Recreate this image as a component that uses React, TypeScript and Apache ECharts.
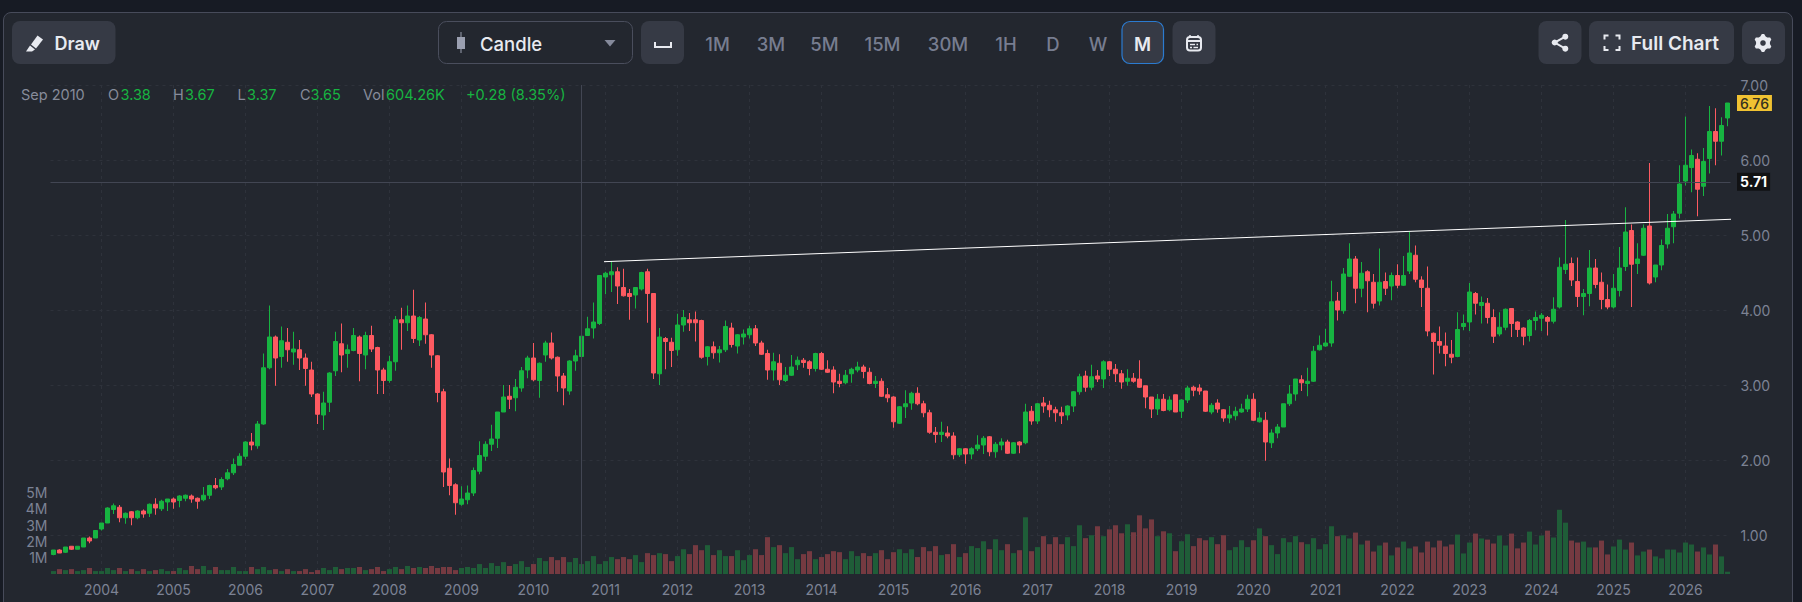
import React, { useEffect, useRef } from "react";
import * as echarts from "echarts";

// Monthly candles, one row per month: [open, close, low, high]
const candles2003 = [[0.74,0.80,0.73,0.80],[0.80,0.76,0.76,0.81],[0.77,0.84,0.76,0.84],[0.85,0.81,0.80,0.85],[0.81,0.85,0.81,0.85],[0.84,0.96,0.84,0.96],[0.96,0.92,0.89,0.98],[0.96,1.06,0.96,1.06]];
const candles2004 = [[1.08,1.16,1.06,1.16],[1.16,1.36,1.16,1.37],[1.34,1.39,1.28,1.42],[1.37,1.23,1.17,1.40],[1.23,1.29,1.15,1.30],[1.31,1.23,1.13,1.32],[1.23,1.32,1.21,1.33],[1.32,1.28,1.23,1.34],[1.29,1.41,1.24,1.42],[1.41,1.36,1.27,1.49],[1.35,1.45,1.32,1.47],[1.44,1.48,1.32,1.48]];
const candles2005 = [[1.48,1.44,1.35,1.50],[1.46,1.52,1.37,1.53],[1.49,1.53,1.45,1.54],[1.52,1.48,1.43,1.54],[1.49,1.45,1.35,1.50],[1.47,1.53,1.45,1.64],[1.53,1.66,1.48,1.67],[1.66,1.63,1.61,1.76],[1.64,1.74,1.60,1.77],[1.75,1.83,1.73,1.88],[1.83,1.94,1.80,2.02],[1.93,2.05,1.93,2.09]];
const candles2006 = [[2.05,2.24,2.01,2.25],[2.24,2.20,2.13,2.36],[2.19,2.48,2.15,2.52],[2.48,3.23,2.47,3.42],[3.23,3.64,3.21,4.06],[3.64,3.36,2.99,3.66],[3.38,3.59,3.23,3.78],[3.57,3.47,3.31,3.76],[3.44,3.48,3.27,3.71],[3.47,3.36,3.20,3.60],[3.36,3.22,2.99,3.42],[3.20,2.88,2.84,3.31]];
const candles2007 = [[2.88,2.61,2.48,2.89],[2.60,2.76,2.40,2.91],[2.77,3.16,2.64,3.17],[3.19,3.58,3.12,3.71],[3.55,3.40,3.17,3.82],[3.42,3.47,3.23,3.54],[3.46,3.66,3.45,3.76],[3.64,3.42,3.05,3.66],[3.40,3.66,3.21,3.71],[3.66,3.48,3.44,3.79],[3.50,3.20,2.88,3.51],[3.20,3.06,2.88,3.23]];
const candles2008 = [[3.06,3.31,3.03,3.39],[3.31,3.87,3.19,3.92],[3.87,3.83,3.47,4.03],[3.83,3.92,3.72,4.06],[3.92,3.62,3.56,4.27],[3.60,3.90,3.52,3.92],[3.88,3.67,3.55,4.10],[3.67,3.40,3.23,3.68],[3.39,2.90,2.77,3.40],[2.91,1.84,1.64,2.95],[1.89,1.66,1.53,2.02],[1.67,1.43,1.27,1.69]];
const candles2009 = [[1.41,1.48,1.39,1.65],[1.47,1.56,1.41,1.66],[1.56,1.86,1.52,1.90],[1.85,2.06,1.81,2.25],[2.05,2.21,1.99,2.25],[2.21,2.28,2.12,2.47],[2.29,2.64,2.16,2.64],[2.64,2.84,2.64,3.00],[2.85,2.81,2.68,3.00],[2.83,2.97,2.65,3.08],[2.96,3.19,2.91,3.24],[3.20,3.36,3.09,3.39]];
const candles2010 = [[3.36,3.07,3.05,3.56],[3.06,3.29,2.83,3.30],[3.40,3.56,3.31,3.59],[3.56,3.36,3.34,3.70],[3.37,3.12,2.91,3.38],[3.12,2.96,2.73,3.16],[2.92,3.32,2.87,3.33],[3.32,3.39,3.19,3.47],[3.38,3.65,3.37,3.67],[3.66,3.75,3.66,3.91],[3.76,3.84,3.62,4.10],[3.82,4.46,3.80,4.46]];
const candles2011 = [[4.44,4.49,4.21,4.51],[4.47,4.51,4.24,4.65],[4.51,4.32,4.08,4.57],[4.30,4.19,4.18,4.55],[4.22,4.18,3.87,4.28],[4.20,4.30,4.02,4.30],[4.28,4.50,4.26,4.51],[4.51,4.22,3.83,4.55],[4.22,3.16,3.08,4.22],[3.15,3.64,3.00,3.76],[3.62,3.58,3.21,3.64],[3.57,3.46,3.24,3.63]];
const candles2012 = [[3.47,3.80,3.39,3.95],[3.80,3.90,3.71,4.00],[3.87,3.83,3.72,3.96],[3.87,3.83,3.58,3.98],[3.86,3.37,3.35,3.87],[3.38,3.51,3.26,3.52],[3.51,3.43,3.35,3.58],[3.43,3.47,3.30,3.52],[3.47,3.78,3.44,3.86],[3.76,3.54,3.50,3.83],[3.52,3.67,3.42,3.68],[3.64,3.68,3.54,3.74]];
const candles2013 = [[3.67,3.75,3.62,3.79],[3.75,3.56,3.52,3.80],[3.56,3.41,3.40,3.59],[3.42,3.20,3.07,3.47],[3.20,3.31,3.06,3.43],[3.29,3.07,3.00,3.41],[3.06,3.13,3.04,3.24],[3.13,3.24,3.12,3.40],[3.27,3.33,3.20,3.38],[3.33,3.30,3.23,3.36],[3.31,3.22,3.13,3.33],[3.22,3.42,3.18,3.43]];
const candles2014 = [[3.42,3.21,3.20,3.44],[3.21,3.17,3.16,3.33],[3.20,3.04,2.89,3.25],[3.05,3.02,2.97,3.15],[3.03,3.13,3.01,3.20],[3.15,3.21,3.03,3.23],[3.20,3.24,3.17,3.31],[3.24,3.18,3.09,3.27],[3.17,3.02,3.01,3.23],[3.02,3.05,2.96,3.12],[3.05,2.85,2.84,3.09],[2.87,2.83,2.77,2.96]];
const candles2015 = [[2.84,2.51,2.43,2.85],[2.49,2.71,2.48,2.72],[2.71,2.75,2.56,2.93],[2.76,2.89,2.67,2.91],[2.89,2.75,2.73,2.97],[2.75,2.63,2.57,2.79],[2.63,2.37,2.35,2.67],[2.37,2.34,2.23,2.44],[2.34,2.37,2.24,2.51],[2.36,2.32,2.29,2.45],[2.32,2.07,2.01,2.37],[2.07,2.15,2.04,2.16]];
const candles2016 = [[2.15,2.08,1.95,2.16],[2.08,2.15,2.01,2.17],[2.15,2.20,2.12,2.33],[2.20,2.29,2.08,2.32],[2.31,2.11,2.05,2.32],[2.11,2.21,2.03,2.24],[2.20,2.24,2.13,2.29],[2.24,2.09,2.08,2.27],[2.09,2.23,2.08,2.24],[2.24,2.20,2.09,2.25],[2.23,2.64,2.21,2.75],[2.65,2.52,2.47,2.72]];
const candles2017 = [[2.52,2.75,2.48,2.76],[2.76,2.72,2.63,2.84],[2.73,2.67,2.57,2.79],[2.67,2.63,2.51,2.71],[2.63,2.59,2.48,2.71],[2.60,2.72,2.53,2.73],[2.72,2.91,2.64,2.92],[2.91,3.11,2.87,3.15],[3.12,2.97,2.91,3.19],[2.97,3.11,2.93,3.27],[3.12,3.08,3.04,3.20],[3.08,3.31,2.96,3.33]];
const candles2018 = [[3.31,3.21,3.12,3.32],[3.21,3.15,3.04,3.28],[3.15,3.04,2.95,3.20],[3.05,3.09,2.99,3.21],[3.09,3.05,3.03,3.16],[3.08,2.97,2.96,3.33],[2.99,2.84,2.69,2.99],[2.84,2.68,2.56,2.84],[2.68,2.81,2.60,2.88],[2.81,2.66,2.65,2.88],[2.67,2.80,2.65,2.85],[2.87,2.64,2.64,2.87]];
const candles2019 = [[2.65,2.80,2.56,2.81],[2.80,2.96,2.76,2.99],[2.97,2.93,2.85,2.99],[2.96,2.92,2.87,3.01],[2.92,2.65,2.64,2.92],[2.64,2.73,2.61,2.76],[2.76,2.68,2.63,2.81],[2.67,2.56,2.51,2.68],[2.56,2.60,2.49,2.72],[2.59,2.65,2.53,2.71],[2.64,2.68,2.63,2.75],[2.68,2.81,2.64,2.87]];
const candles2020 = [[2.81,2.53,2.52,2.89],[2.51,2.56,2.50,2.64],[2.53,2.24,1.99,2.64],[2.23,2.36,2.16,2.41],[2.36,2.44,2.29,2.48],[2.44,2.75,2.44,2.75],[2.75,2.88,2.72,3.00],[2.88,3.08,2.79,3.08],[3.07,3.03,2.92,3.13],[3.02,3.05,2.85,3.23],[3.05,3.45,3.04,3.52],[3.47,3.53,3.46,3.66]];
const candles2021 = [[3.52,3.56,3.51,3.75],[3.56,4.11,3.51,4.39],[4.12,4.00,3.86,4.24],[3.99,4.48,3.95,4.56],[4.45,4.68,4.44,4.89],[4.68,4.29,4.09,4.72],[4.29,4.49,4.17,4.64],[4.51,4.39,3.97,4.53],[4.37,4.09,4.02,4.48],[4.12,4.37,4.06,4.82],[4.38,4.29,4.20,4.50],[4.32,4.46,4.13,4.50]];
const candles2022 = [[4.46,4.33,4.29,4.61],[4.33,4.46,4.32,4.72],[4.52,4.76,4.48,5.04],[4.73,4.41,4.37,4.86],[4.40,4.30,4.04,4.45],[4.29,3.72,3.65,4.58],[3.69,3.58,3.14,3.70],[3.58,3.53,3.42,3.78],[3.52,3.42,3.25,3.70],[3.41,3.37,3.29,3.60],[3.38,3.74,3.37,3.97],[3.78,3.82,3.73,3.94]];
const candles2023 = [[3.84,4.24,3.72,4.36],[4.22,4.09,3.94,4.24],[4.06,4.10,3.82,4.18],[4.09,3.90,3.82,4.16],[3.90,3.65,3.56,4.01],[3.68,3.77,3.65,3.97],[3.77,4.01,3.73,4.02],[4.02,3.82,3.64,4.02],[3.84,3.74,3.64,3.85],[3.76,3.65,3.53,3.77],[3.66,3.86,3.58,3.88],[3.86,3.90,3.73,3.98]];
const candles2024 = [[3.89,3.93,3.72,3.96],[3.90,3.85,3.66,3.92],[3.85,4.01,3.82,4.17],[4.04,4.57,4.02,4.70],[4.54,4.61,4.48,5.20],[4.62,4.40,4.32,4.70],[4.38,4.18,4.04,4.70],[4.18,4.22,3.93,4.28],[4.22,4.56,4.05,4.80],[4.56,4.34,4.29,4.68],[4.37,4.14,4.01,4.50],[4.14,4.04,4.01,4.34]];
const candles2025 = [[4.04,4.29,4.02,4.48],[4.26,4.56,4.18,4.84],[4.58,5.04,4.52,5.37],[5.06,4.61,4.04,5.14],[4.62,4.68,4.48,4.89],[4.73,5.09,4.72,5.14],[5.12,4.36,4.34,5.96],[4.44,4.60,4.37,4.60],[4.60,4.86,4.53,4.94],[4.88,5.09,4.82,5.28],[5.11,5.28,4.89,5.32],[5.29,5.68,5.22,5.93]];
const candles2026 = [[5.72,5.93,5.66,6.58],[5.90,6.06,5.57,6.14],[6.01,5.61,5.25,6.09],[5.65,5.98,5.52,6.16],[6.02,6.38,5.82,6.72],[6.38,6.25,5.93,6.69],[6.25,6.46,6.06,6.57],[6.56,6.76,6.45,6.76]];

// Monthly volume, in millions
const volume2003 = [0.18,0.30,0.24,0.30,0.18,0.24,0.37,0.18];
const volume2004 = [0.18,0.37,0.24,0.37,0.18,0.30,0.18,0.30,0.18,0.24,0.30,0.18];
const volume2005 = [0.18,0.37,0.24,0.49,0.30,0.49,0.24,0.43,0.24,0.24,0.43,0.18];
const volume2006 = [0.18,0.43,0.30,0.43,0.24,0.30,0.18,0.30,0.18,0.18,0.30,0.12];
const volume2007 = [0.24,0.37,0.24,0.43,0.30,0.37,0.37,0.43,0.24,0.30,0.43,0.18];
const volume2008 = [0.30,0.43,0.30,0.49,0.37,0.43,0.37,0.49,0.37,0.43,0.43,0.24];
const volume2009 = [0.37,0.43,0.37,0.61,0.37,0.67,0.49,0.73,0.49,0.61,0.79,0.43];
const volume2010 = [0.61,0.98,0.79,1.04,0.85,1.04,0.73,0.98,0.61,0.79,1.10,0.61];
const volume2011 = [0.79,1.04,0.91,1.04,0.91,1.16,0.73,1.28,1.16,1.28,1.22,0.79];
const volume2012 = [1.10,1.52,1.22,1.77,1.46,1.77,1.16,1.46,1.10,1.10,1.46,0.85];
const volume2013 = [1.16,1.52,1.16,2.26,1.65,1.77,1.28,1.65,0.91,1.22,1.40,0.91];
const volume2014 = [1.04,1.22,1.40,1.34,0.91,1.40,1.10,1.28,1.10,1.28,1.46,0.91];
const volume2015 = [1.34,1.52,1.28,1.52,1.04,1.65,1.40,1.71,1.16,1.22,1.83,1.04];
const volume2016 = [1.28,1.71,1.59,2.01,1.52,2.13,1.46,1.83,1.28,1.46,3.48,1.40];
const volume2017 = [1.65,2.32,1.83,2.26,1.83,2.26,1.71,2.99,2.20,2.38,2.93,2.32];
const volume2018 = [2.74,2.99,2.50,3.05,2.56,3.60,2.80,3.35,2.32,2.62,2.50,1.40];
const volume2019 = [2.01,2.44,1.71,2.20,2.07,2.26,1.83,2.38,1.46,1.65,2.07,1.65];
const volume2020 = [2.07,2.80,2.32,1.77,1.22,2.20,1.95,2.32,1.95,1.83,2.20,1.52];
const volume2021 = [1.83,2.93,2.32,2.38,2.18,2.54,1.81,2.05,1.38,1.75,1.93,1.14];
const volume2022 = [1.63,1.99,1.57,1.69,1.32,1.99,1.63,2.05,1.69,1.81,2.42,1.26];
const volume2023 = [1.93,2.48,2.18,2.11,1.87,2.36,1.75,2.48,1.57,1.93,2.60,1.81];
const volume2024 = [2.36,2.66,2.24,3.94,3.15,2.05,1.93,1.99,1.63,1.63,2.05,1.20];
const volume2025 = [1.69,2.11,1.50,1.93,1.14,1.38,1.50,1.08,0.96,1.50,1.50,1.32];
const volume2026 = [1.93,1.81,1.38,1.63,1.20,1.81,1.08,0.14];

const firstYear = 2003;
const firstMonth = 5;
const candles = [candles2003,candles2004,candles2005,candles2006,candles2007,candles2008,candles2009,candles2010,candles2011,candles2012,candles2013,candles2014,candles2015,candles2016,candles2017,candles2018,candles2019,candles2020,candles2021,candles2022,candles2023,candles2024,candles2025,candles2026].flat();
const volumes = [volume2003,volume2004,volume2005,volume2006,volume2007,volume2008,volume2009,volume2010,volume2011,volume2012,volume2013,volume2014,volume2015,volume2016,volume2017,volume2018,volume2019,volume2020,volume2021,volume2022,volume2023,volume2024,volume2025,volume2026].flat();
const categories = candles.map((_, i) => {
  const m = firstMonth - 1 + i;
  return `${firstYear + Math.floor(m / 12)}-${String((m % 12) + 1).padStart(2, "0")}`;
});

const lastPrice = 6.76;
const crosshairPrice = 5.71;
const crosshairMonth = "2010-09";
// Hand-drawn trend line: [month index, price]
const trendLine = [[92.25, 4.644], [284.5, 5.223]];
const volumeTicks = [1, 2, 3, 4, 5];

const timeframes = ["1M", "3M", "5M", "15M", "30M", "1H", "D", "W"];
const timeframeCenters = [717.5, 771, 824.5, 882.5, 948, 1006, 1053, 1098];
const legendTexts = ["Sep 2010", "O", "3.38", "H", "3.67", "L", "3.37", "C", "3.65", "Vol", "604.26K", "+0.28 (8.35%)"];
const legendStarts = [21, 108, 120.5, 173, 185, 237.5, 247, 300, 310.5, 363, 386, 466];
const legendIsValue = [false, false, true, false, true, false, true, false, true, false, true, true];

const C = {
  page: "#171b24", panel: "#23272f", border: "#474b5a", btn: "#363a45",
  up: "#17b441", down: "#fd5a61", upVol: "#1f5d38", downVol: "#753a41",
  grid: "#2e323b", axisText: "#7c8294", white: "#e8eaf0", muted: "#777d90",
  cross: "#424653", legend: "#878c9b",
};
const FONT = "Inter, sans-serif";

const isJanuary = (_: number, v: string) => v.endsWith("-01");

function button(x: number, w: number, extra: any = {}) {
  return { type: "rect", z: 100, shape: { x, y: 21, width: w, height: 43, r: 8 }, style: { fill: C.btn, ...extra } };
}
function label(text: string, x: number, y: number, font: string, fill: string, align = "center") {
  return { type: "text", z: 101, x, y, style: { text, fill, font, textAlign: align, textVerticalAlign: "middle" } };
}
function stroke(points: number[][], w = 2, color = C.white) {
  return { type: "polyline", z: 101, shape: { points }, style: { stroke: color, lineWidth: w, fill: "none" } };
}

function gearPoints(cx: number, cy: number) {
  const pts: number[][] = [];
  for (let i = 0; i < 24; i++) {
    const a = (i / 24) * Math.PI * 2 - Math.PI / 2 - Math.PI / 24;
    const r = i % 4 < 2 ? 9 : 7;
    pts.push([cx + r * Math.cos(a), cy + r * Math.sin(a)]);
  }
  return pts;
}

function toolbar() {
  const g: any[] = [];
  g.push(button(12, 103.5));
  g.push({ type: "polygon", z: 101, shape: { points: [[31, 44.5], [37.5, 35.5], [43, 39.5], [36, 48.5]] }, style: { fill: C.white } });
  g.push({ type: "polygon", z: 101, shape: { points: [[30, 45.5], [35, 49.5], [32, 51.5], [26, 51.5]] }, style: { fill: C.white } });
  g.push(label("Draw", 54.5, 43.5, `600 18px ${FONT}`, C.white, "left"));

  g.push({ type: "rect", z: 100, shape: { x: 438.5, y: 21.5, width: 194, height: 42, r: 8 }, style: { fill: "none", stroke: "#4a4e5d", lineWidth: 1 } });
  g.push({ type: "rect", z: 101, shape: { x: 460.5, y: 32, width: 1, height: 21 }, style: { fill: "#9a9fb0" } });
  g.push({ type: "rect", z: 101, shape: { x: 457, y: 37, width: 8, height: 12 }, style: { fill: "#9a9fb0" } });
  g.push(label("Candle", 480, 43.5, `500 18.5px ${FONT}`, C.white, "left"));
  g.push({ type: "polygon", z: 101, shape: { points: [[604.5, 40], [615.5, 40], [610, 46.5]] }, style: { fill: "#858a9b" } });

  g.push(button(641, 43));
  g.push(stroke([[655, 42], [655, 47], [671, 47], [671, 42]]));

  timeframes.forEach((t, i) => g.push(label(t, timeframeCenters[i], 43.5, `500 18.5px ${FONT}`, C.muted)));

  g.push({ type: "rect", z: 100, shape: { x: 1122, y: 21.5, width: 41.5, height: 42, r: 8 }, style: { fill: C.btn, stroke: "#2b7bd0", lineWidth: 1.2 } });
  g.push(label("M", 1142.5, 43.5, `600 18.5px ${FONT}`, C.white));

  g.push(button(1172.5, 43));
  g.push({ type: "rect", z: 101, shape: { x: 1187, y: 37, width: 14, height: 13.5, r: 3 }, style: { fill: "none", stroke: C.white, lineWidth: 2 } });
  g.push(stroke([[1187, 41], [1201, 41]], 2));
  g.push(stroke([[1190, 35], [1190, 37.5]], 1.5));
  g.push(stroke([[1198, 35], [1198, 37.5]], 1.5));
  g.push(stroke([[1190, 44.5], [1195, 44.5]], 1.4));
  g.push(stroke([[1196.5, 44.5], [1198, 44.5]], 1.4));
  g.push(stroke([[1190, 47.5], [1192, 47.5]], 1.4));
  g.push(stroke([[1193.5, 47.5], [1198, 47.5]], 1.4));

  g.push(button(1538.5, 43));
  g.push(stroke([[1565.3, 36.7], [1554.7, 42.5], [1565.3, 48.7]], 2));
  [[1565.3, 36.7], [1554.7, 42.5], [1565.3, 48.7]].forEach(([cx, cy]) =>
    g.push({ type: "circle", z: 101, shape: { cx, cy, r: 3 }, style: { fill: C.white } }));

  g.push(button(1589, 145));
  g.push(stroke([[1604.5, 39.5], [1604.5, 35.5], [1608.5, 35.5]]));
  g.push(stroke([[1615.5, 35.5], [1619.5, 35.5], [1619.5, 39.5]]));
  g.push(stroke([[1619.5, 46], [1619.5, 50], [1615.5, 50]]));
  g.push(stroke([[1608.5, 50], [1604.5, 50], [1604.5, 46]]));
  g.push(label("Full Chart", 1631, 43.5, `600 19px ${FONT}`, C.white, "left"));

  g.push(button(1742, 43));
  g.push({ type: "polygon", z: 101, shape: { points: gearPoints(1763, 43) }, style: { fill: C.white } });
  g.push({ type: "circle", z: 102, shape: { cx: 1763, cy: 43, r: 2.8 }, style: { fill: C.btn } });

  legendTexts.forEach((t, i) =>
    g.push(label(t, legendStarts[i], 94.5, `400 14.5px ${FONT}`, legendIsValue[i] ? C.up : C.legend, "left")));
  return g;
}

export default function App() {
  const ref = useRef<HTMLDivElement>(null);
  useEffect(() => {
    const chart = echarts.init(ref.current!, undefined, { renderer: "svg" });
    const gridBox = { left: 50.5, width: 1680, top: 85 };
    chart.setOption({
      animation: false,
      backgroundColor: "transparent",
      graphic: { elements: toolbar() },
      grid: [
        { ...gridBox, height: 450 },
        { ...gridBox, height: 489 },
      ],
      xAxis: [
        { type: "category", gridIndex: 0, data: categories, show: false },
        {
          type: "category", gridIndex: 1, data: categories,
          axisLine: { show: false }, axisTick: { show: false },
          axisLabel: {
            interval: isJanuary, formatter: (v: string) => v.slice(0, 4),
            color: C.axisText, fontFamily: FONT, fontSize: 14, margin: 8,
          },
          splitLine: { show: true, interval: isJanuary, alignWithLabel: true, lineStyle: { color: C.grid, type: [3, 4], width: 1 } },
        },
        { type: "value", gridIndex: 0, min: 0, max: categories.length, show: false, position: "top", splitLine: { show: false } },
      ],
      yAxis: [
        {
          type: "value", gridIndex: 0, position: "right", min: 1, max: 7, interval: 1,
          axisLine: { show: false }, axisTick: { show: false },
          axisLabel: { formatter: (v: number) => v.toFixed(2), color: C.axisText, fontFamily: FONT, fontSize: 14, margin: 10 },
          splitLine: { show: true, lineStyle: { color: C.grid, type: [3, 4], width: 1 } },
        },
        {
          type: "value", gridIndex: 1, position: "left", min: 0, max: 30, interval: 1,
          axisLine: { show: false }, axisTick: { show: false }, splitLine: { show: false },
          axisLabel: {
            formatter: (v: number) => (volumeTicks.includes(v) ? `${v}M` : ""),
            color: C.axisText, fontFamily: FONT, fontSize: 14, margin: 3, padding: [0, 0, 2, 0],
          },
        },
      ],
      series: [
        {
          type: "bar", xAxisIndex: 1, yAxisIndex: 1, barWidth: 5, z: 1,
          data: volumes.map((v, i) => ({
            value: v,
            itemStyle: { color: candles[i][1] >= candles[i][0] ? C.upVol : C.downVol },
          })),
          markLine: {
            silent: true, symbol: "none", label: { show: false },
            lineStyle: { color: C.cross, type: "solid", width: 1 },
            data: [{ xAxis: crosshairMonth }],
          },
        },
        {
          type: "candlestick", xAxisIndex: 0, yAxisIndex: 0, barWidth: 4, clip: false, z: 3,
          itemStyle: { color: C.up, color0: C.down, borderColor: C.up, borderColor0: C.down, borderWidth: 1 },
          data: candles,
          markLine: {
            silent: true, symbol: "none", animation: false,
            data: [
              {
                yAxis: crosshairPrice,
                lineStyle: { color: C.cross, type: "solid", width: 1 },
                label: {
                  position: "end", distance: 6.5, formatter: crosshairPrice.toFixed(2),
                  color: "#ffffff", backgroundColor: "#111214", padding: [2, 3],
                  fontFamily: FONT, fontSize: 14, fontWeight: 700,
                },
              },
              {
                yAxis: lastPrice,
                lineStyle: { color: "rgba(0,0,0,0)", width: 0 },
                label: {
                  position: "end", distance: 6.5, formatter: lastPrice.toFixed(2),
                  color: "#34301f", backgroundColor: "#f0c232", padding: [1, 3],
                  fontFamily: FONT, fontSize: 14, fontWeight: 500,
                },
              },
            ],
          },
        },
        {
          type: "line", xAxisIndex: 2, yAxisIndex: 0, data: trendLine, clip: false, z: 4,
          symbol: "none", silent: true, lineStyle: { color: "#ffffff", width: 1 },
        },
      ],
    });
    return () => chart.dispose();
  }, []);

  return (
    <div style={{ position: "fixed", left: 0, top: 0, width: 1802, height: 602, background: C.page, overflow: "hidden" }}>
      <div style={{
        position: "absolute", left: 3, top: 12, width: 1790, height: 620, boxSizing: "border-box",
        background: C.panel, border: `1px solid ${C.border}`, borderRadius: 8,
      }} />
      <div ref={ref} style={{ position: "absolute", left: 0, top: 0, width: 1802, height: 602 }} />
    </div>
  );
}
